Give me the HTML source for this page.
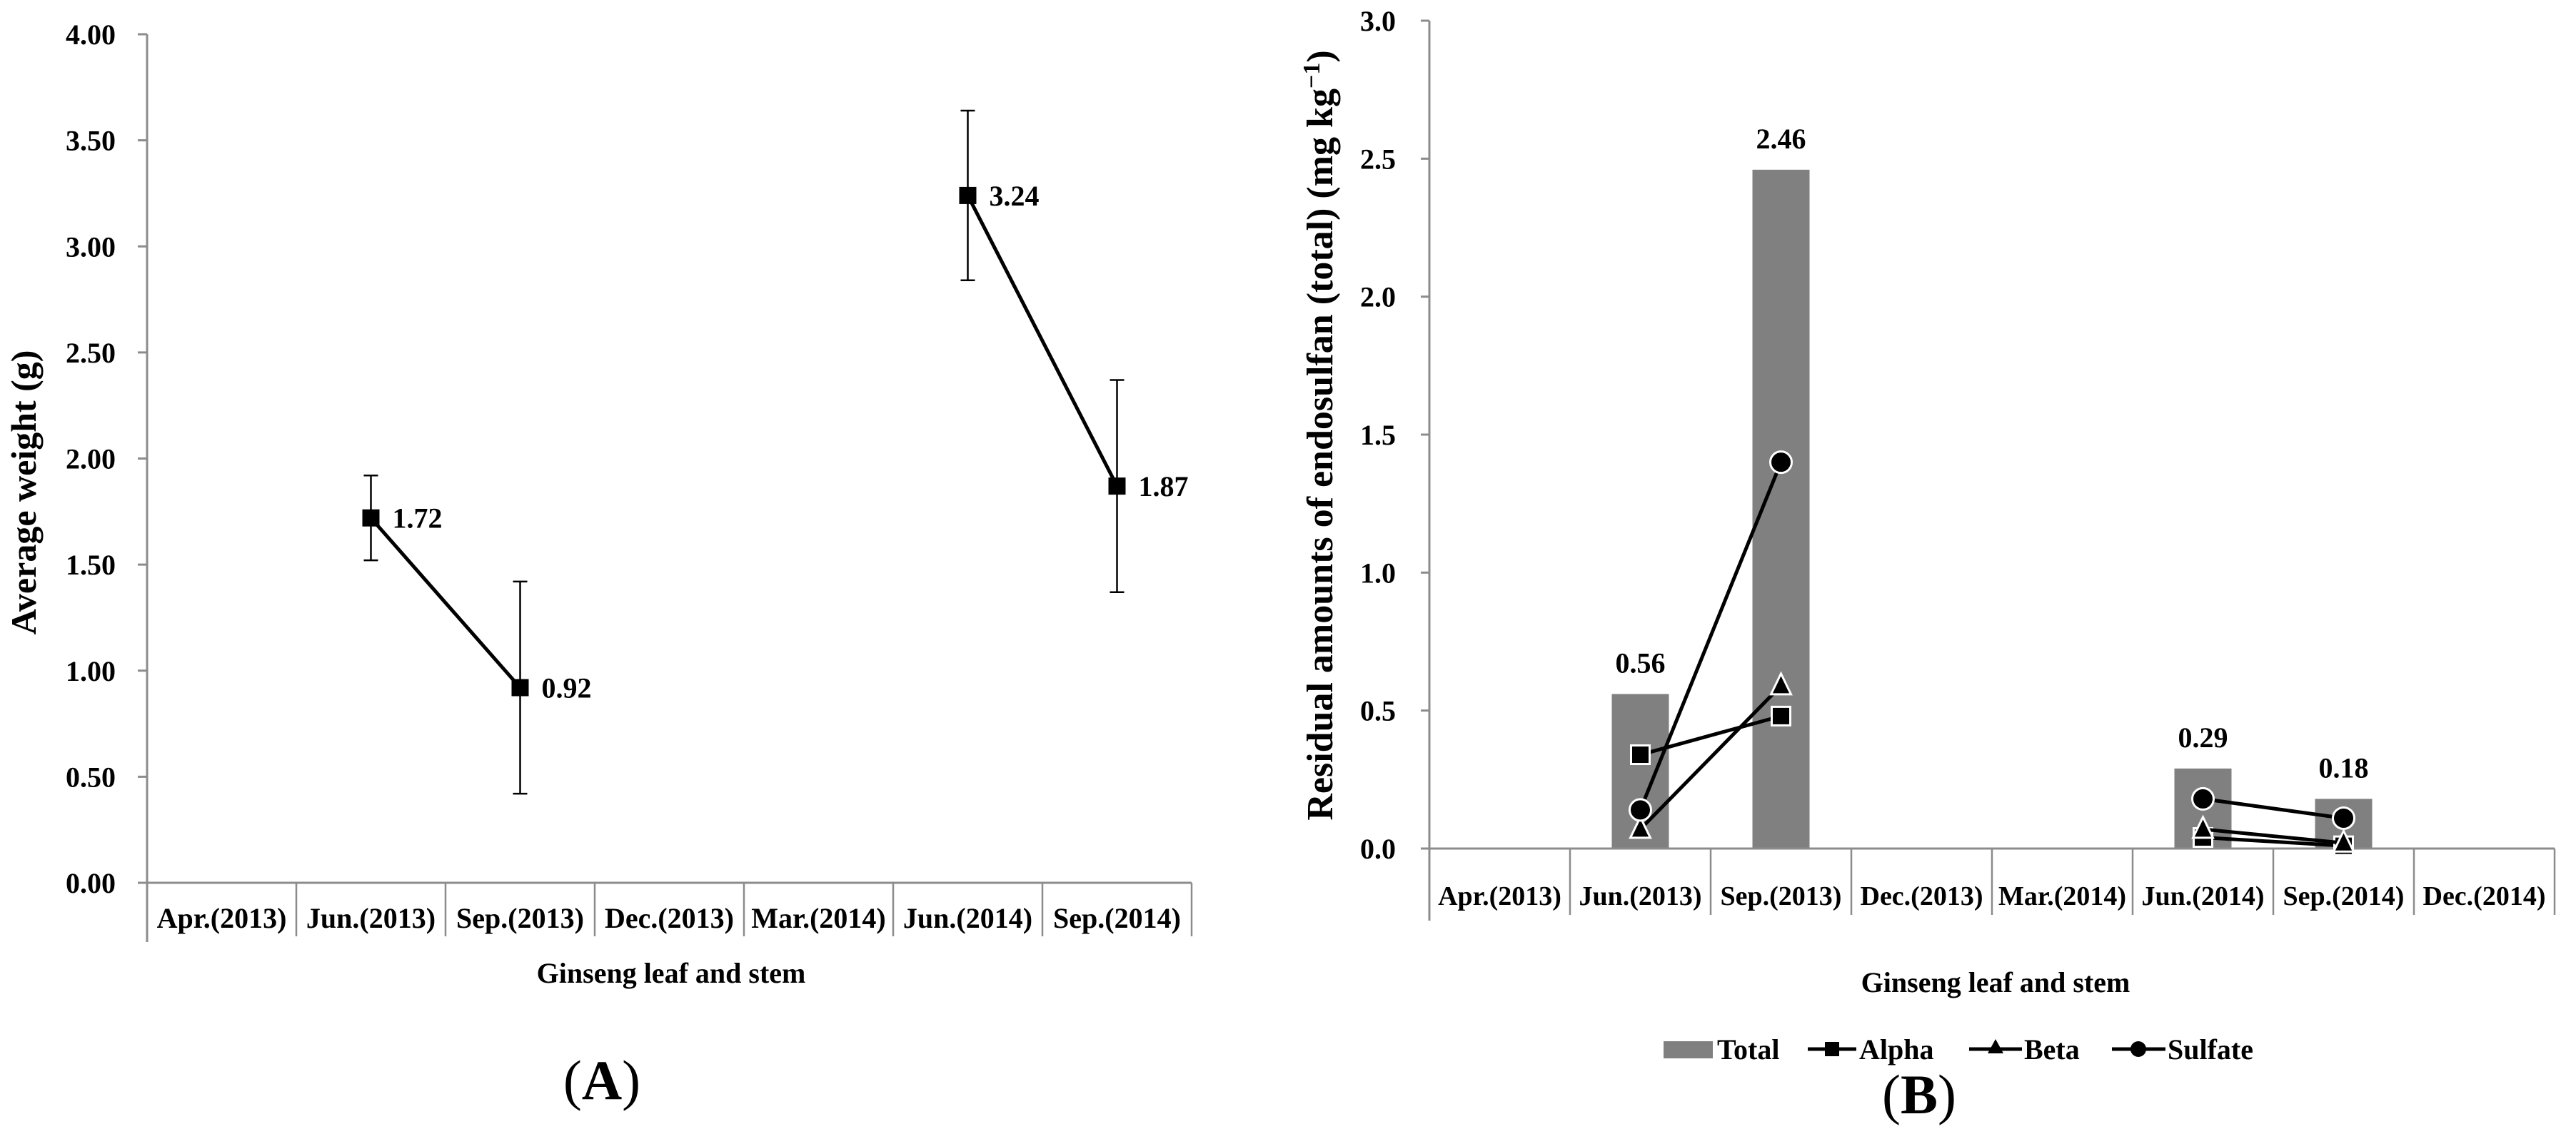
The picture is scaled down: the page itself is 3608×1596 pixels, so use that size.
<!DOCTYPE html>
<html><head><meta charset="utf-8"><style>
html,body{margin:0;padding:0;background:#fff;}
svg{display:block;font-family:"Liberation Serif",serif;font-weight:bold;}
</style></head><body>
<svg id="chart" xmlns="http://www.w3.org/2000/svg" width="3608" height="1596" viewBox="0 0 3608 1596">
<g id="A"></g>
<g id="B"></g>
</svg>
<script>
// ---- Chart A data ----
const catsA = ["Apr.(2013)","Jun.(2013)","Sep.(2013)","Dec.(2013)","Mar.(2014)","Jun.(2014)","Sep.(2014)"];
const weightIdx = [1,2,5,6];
const weightVals = [1.72,0.92,3.24,1.87];
const weightErr = [0.20,0.50,0.40,0.50];
const weightLabels = ["1.72","0.92","3.24","1.87"];
const ticksA = [0,0.5,1,1.5,2,2.5,3,3.5,4];
const tickLabelsA = ["0.00","0.50","1.00","1.50","2.00","2.50","3.00","3.50","4.00"];
// ---- Chart B data ----
const catsB = ["Apr.(2013)","Jun.(2013)","Sep.(2013)","Dec.(2013)","Mar.(2014)","Jun.(2014)","Sep.(2014)","Dec.(2014)"];
const seriesIdx = [1,2,5,6];
const totalVals = [0.56,2.46,0.29,0.18];
const totalLabels = ["0.56","2.46","0.29","0.18"];
const alphaVals = [0.34,0.48,0.04,0.01];
const betaVals = [0.07,0.59,0.07,0.02];
const sulfateVals = [0.14,1.40,0.18,0.11];
const ticksB = [0,0.5,1,1.5,2,2.5,3];
const tickLabelsB = ["0.0","0.5","1.0","1.5","2.0","2.5","3.0"];

const NS="http://www.w3.org/2000/svg";
function mk(parent,tag,attrs,txt){const e=document.createElementNS(NS,tag);for(const k in attrs)e.setAttribute(k,attrs[k]);if(txt!==undefined)e.textContent=txt;parent.appendChild(e);return e;}
const AX="#8c8c8c";

// ===== Chart A =====
(function(){
const g=document.getElementById('A');
const x0=206,cw=209,y0=1237,yTop=48,vmax=4;
const X=i=>x0+cw*(i+0.5);
const Y=v=>y0-(v/vmax)*(y0-yTop);
const yaxis=mk(g,'line',{x1:x0,y1:yTop,x2:x0,y2:1320,stroke:AX,'stroke-width':3});


const xaxis=mk(g,'line',{x1:x0-13,y1:y0,x2:x0+cw*catsA.length,y2:y0,stroke:AX,'stroke-width':3});


ticksA.forEach((t,i)=>{
  mk(g,'line',{x1:x0-13,y1:Y(t),x2:x0,y2:Y(t),stroke:AX,'stroke-width':3});
  const tl=mk(g,'text',{x:x0-44,y:Y(t)+14,'text-anchor':'end','font-size':40},tickLabelsA[i]);
  
  
});
catsA.forEach((c,i)=>{
  mk(g,'line',{x1:x0+cw*(i+1),y1:y0,x2:x0+cw*(i+1),y2:1312,stroke:AX,'stroke-width':2.5});
  const cl=mk(g,'text',{x:X(i),y:1300,'text-anchor':'middle','font-size':40},c);
  
  
});
const xt=mk(g,'text',{x:940,y:1377,'text-anchor':'middle','font-size':40},'Ginseng leaf and stem');


const yt=mk(g,'text',{x:0,y:0,'text-anchor':'middle','font-size':50,transform:'translate(50,690) rotate(-90)'},'Average weight (g)');


const pl=mk(g,'text',{x:843,y:1540,'text-anchor':'middle','font-size':78,'font-weight':'normal'},'');
mk(pl,'tspan',{},'(');mk(pl,'tspan',{'font-weight':'bold'},'A');mk(pl,'tspan',{},')');


for(let k=0;k<weightIdx.length-1;k++){
  if(weightIdx[k+1]===weightIdx[k]+1){
    const ln=mk(g,'line',{x1:X(weightIdx[k]),y1:Y(weightVals[k]),x2:X(weightIdx[k+1]),y2:Y(weightVals[k+1]),stroke:'#000','stroke-width':5});
    
    
  }
}
weightIdx.forEach((ci,k)=>{
  const cx=X(ci),v=weightVals[k],e=weightErr[k];
  const eb=mk(g,'path',{d:`M${cx} ${Y(v+e)}V${Y(v-e)}M${cx-10} ${Y(v+e)}H${cx+10}M${cx-10} ${Y(v-e)}H${cx+10}`,stroke:'#000','stroke-width':2.5,fill:'none'});
  
  
  const m=mk(g,'rect',{x:cx-12,y:Y(v)-12,width:24,height:24,fill:'#000'});
  
  
  const lb=mk(g,'text',{x:cx+30,y:Y(v)+14,'font-size':40},weightLabels[k]);
  
  
});
})();

// ===== Chart B =====
(function(){
const g=document.getElementById('B');
const x0=2002,cw=197,y0=1189,yTop=29,vmax=3;
const X=i=>x0+cw*(i+0.5);
const Y=v=>y0-(v/vmax)*(y0-yTop);
const yaxis=mk(g,'line',{x1:x0,y1:yTop,x2:x0,y2:1290,stroke:AX,'stroke-width':3});


ticksB.forEach((t,i)=>{
  mk(g,'line',{x1:x0-12,y1:Y(t),x2:x0,y2:Y(t),stroke:AX,'stroke-width':3});
  const tl=mk(g,'text',{x:1955,y:Y(t)+14,'text-anchor':'end','font-size':40},tickLabelsB[i]);
  
  
});
seriesIdx.forEach((ci,k)=>{
  const bw=80,v=totalVals[k];
  const b=mk(g,'rect',{x:X(ci)-bw/2,y:Y(v),width:bw,height:y0-Y(v),fill:'#808080'});
  
  
  const lb=mk(g,'text',{x:X(ci),y:Y(v)-30,'text-anchor':'middle','font-size':40},totalLabels[k]);
  
  
});
const xaxis=mk(g,'line',{x1:x0-12,y1:y0,x2:x0+cw*catsB.length,y2:y0,stroke:AX,'stroke-width':3});


catsB.forEach((c,i)=>{
  mk(g,'line',{x1:x0+cw*(i+1),y1:y0,x2:x0+cw*(i+1),y2:1282,stroke:AX,'stroke-width':2.5});
  const cl=mk(g,'text',{x:X(i),y:1268,'text-anchor':'middle','font-size':38},c);
  
  
});
function series(vals,shape,name){
  for(let k=0;k<seriesIdx.length-1;k++){
    if(seriesIdx[k+1]===seriesIdx[k]+1){
      const ln=mk(g,'line',{x1:X(seriesIdx[k]),y1:Y(vals[k]),x2:X(seriesIdx[k+1]),y2:Y(vals[k+1]),stroke:'#000','stroke-width':5});
      
      
    }
  }
  seriesIdx.forEach((ci,k)=>{
    const cx=X(ci),cy=Y(vals[k]);let m;
    if(shape==='sq') m=mk(g,'rect',{x:cx-13,y:cy-13,width:26,height:26,fill:'#000',stroke:'#fff','stroke-width':3});
    else if(shape==='tri') m=mk(g,'polygon',{points:`${cx},${cy-17} ${cx+14},${cy+12} ${cx-14},${cy+12}`,fill:'#000',stroke:'#fff','stroke-width':3});
    else m=mk(g,'circle',{cx:cx,cy:cy,r:15,fill:'#000',stroke:'#fff','stroke-width':3});
    
    
  });
}
series(alphaVals,'sq','alpha');
series(betaVals,'tri','beta');
series(sulfateVals,'circ','sulfate');
const xt=mk(g,'text',{x:2795,y:1390,'text-anchor':'middle','font-size':40},'Ginseng leaf and stem');


const yt=mk(g,'text',{x:0,y:0,'text-anchor':'middle','font-size':52,transform:'translate(1866,610) rotate(-90)'},'');
mk(yt,'tspan',{},'Residual amounts of endosulfan (total) (mg kg');
mk(yt,'tspan',{dy:-18,'font-size':34},'−1');
mk(yt,'tspan',{dy:18},')');


// legend
const LY=1470;
const lg=mk(g,'g',{});


const e1=mk(lg,'g',{});


mk(e1,'rect',{x:2330,y:LY-11,width:69,height:24,fill:'#808080'});
mk(e1,'text',{x:2405,y:LY+14,'font-size':40},'Total');
const e2=mk(lg,'g',{});


mk(e2,'line',{x1:2532,y1:LY,x2:2600,y2:LY,stroke:'#000','stroke-width':5});
mk(e2,'rect',{x:2556,y:LY-10,width:20,height:20,fill:'#000'});
mk(e2,'text',{x:2604,y:LY+14,'font-size':40},'Alpha');
const e3=mk(lg,'g',{});


mk(e3,'line',{x1:2758,y1:LY,x2:2832,y2:LY,stroke:'#000','stroke-width':5});
mk(e3,'polygon',{points:`2795,${LY-14} 2806,${LY+6} 2784,${LY+6}`,fill:'#000'});
mk(e3,'text',{x:2835,y:LY+14,'font-size':40},'Beta');
const e4=mk(lg,'g',{});


mk(e4,'line',{x1:2958,y1:LY,x2:3033,y2:LY,stroke:'#000','stroke-width':5});
mk(e4,'circle',{cx:2995,cy:LY,r:11,fill:'#000'});
mk(e4,'text',{x:3036,y:LY+14,'font-size':40},'Sulfate');
const pl=mk(g,'text',{x:2688,y:1560,'text-anchor':'middle','font-size':78,'font-weight':'normal'},'');
mk(pl,'tspan',{},'(');mk(pl,'tspan',{'font-weight':'bold'},'B');mk(pl,'tspan',{},')');


})();
</script>
</body></html>
